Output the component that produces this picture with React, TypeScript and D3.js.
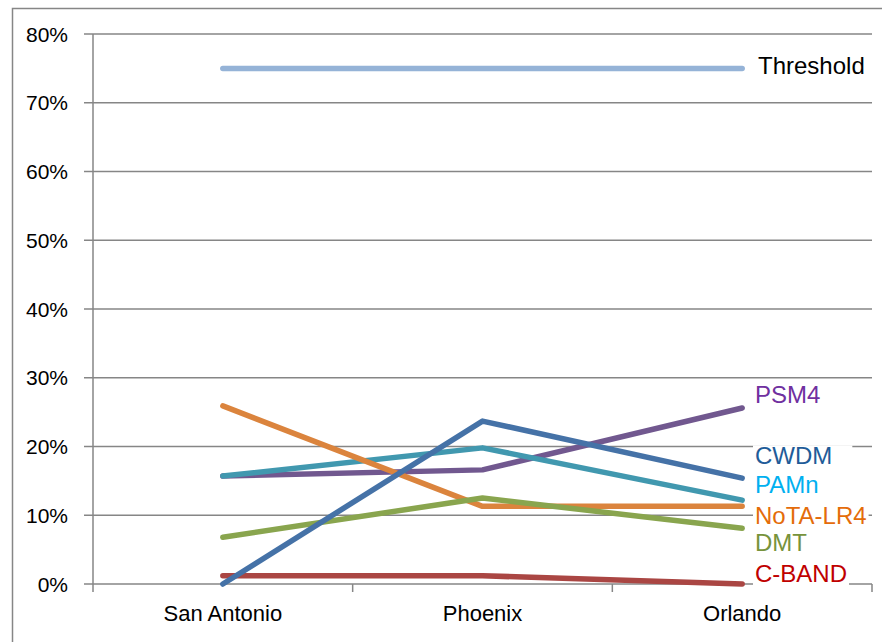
import React, { useEffect, useRef } from 'react';
import * as d3 from 'd3';

const cities = ['San Antonio', 'Phoenix', 'Orlando'];
const yTicks = [0, 0.1, 0.2, 0.3, 0.4, 0.5, 0.6, 0.7, 0.8];

const threshold = [0.75, 0.75, 0.75];
const cband = [0.012, 0.012, 0.0];
const psm4 = [0.157, 0.166, 0.256];
const pamn = [0.157, 0.198, 0.122];
const nota = [0.259, 0.113, 0.113];
const dmt = [0.068, 0.125, 0.081];
const cwdm = [0.0, 0.237, 0.154];

const seriesNames = ['Threshold', 'C-BAND', 'PSM4', 'PAMn', 'NoTA-LR4', 'DMT', 'CWDM'];
const seriesValues = [threshold, cband, psm4, pamn, nota, dmt, cwdm];
const lineColors = ['#95b3d7', '#aa4643', '#71588f', '#4198af', '#db843d', '#89a54e', '#4572a7'];
const labelColors = ['#000000', '#c00000', '#7030a0', '#00b0f0', '#e46c0a', '#77933c', '#1f5c99'];
// where each end label sits, in axis units
const labelAt = [0.742, 0.003, 0.263, 0.132, 0.088, 0.048, 0.174];

export default function App() {
  const svgRef = useRef<SVGSVGElement>(null);

  useEffect(() => {
    const w = 882;
    const h = 642;
    const left = 93;
    const right = 872;
    const top = 34;
    const bottom = 584;
    const grid = '#868686';
    const font = '"Liberation Sans", Arial, sans-serif';

    const svg = d3.select(svgRef.current).attr('width', w).attr('height', h);
    svg.selectAll('*').remove();

    svg
      .append('rect')
      .attr('x', 12.5)
      .attr('y', 8.5)
      .attr('width', 900)
      .attr('height', 700)
      .attr('fill', '#fff')
      .attr('stroke', grid)
      .attr('stroke-width', 1.5);

    const x = d3.scaleBand().domain(cities).range([left, right]);
    const y = d3.scaleLinear().domain([0, 0.8]).range([bottom, top]);

    // gridlines + y ticks
    svg
      .selectAll('.grid')
      .data(yTicks)
      .join('line')
      .attr('x1', left - 9)
      .attr('x2', right)
      .attr('y1', (d) => y(d))
      .attr('y2', (d) => y(d))
      .attr('stroke', grid)
      .attr('stroke-width', 1.5);

    svg
      .append('line')
      .attr('x1', left)
      .attr('x2', left)
      .attr('y1', top)
      .attr('y2', bottom)
      .attr('stroke', grid)
      .attr('stroke-width', 1.5);

    svg
      .selectAll('.ytl')
      .data(yTicks)
      .join('text')
      .attr('x', 68)
      .attr('y', (d) => y(d) + 7.5)
      .attr('text-anchor', 'end')
      .attr('font-family', font)
      .attr('font-size', 21)
      .attr('fill', '#000')
      .text((d) => d3.format('.0%')(d));

    // x ticks
    const xt = [left, ...cities.map((c) => (x(c) as number) + x.bandwidth())];
    svg
      .selectAll('.xt')
      .data(xt)
      .join('line')
      .attr('x1', (d) => d)
      .attr('x2', (d) => d)
      .attr('y1', bottom)
      .attr('y2', bottom + 8)
      .attr('stroke', grid)
      .attr('stroke-width', 1.5);

    svg
      .selectAll('.xl')
      .data(cities)
      .join('text')
      .attr('x', (d) => (x(d) as number) + x.bandwidth() / 2)
      .attr('y', 621)
      .attr('text-anchor', 'middle')
      .attr('font-family', font)
      .attr('font-size', 22)
      .attr('fill', '#000')
      .text((d) => d);

    const line = d3
      .line<number>()
      .x((d, i) => (x(cities[i]) as number) + x.bandwidth() / 2)
      .y((d) => y(d));

    seriesValues.forEach((vals, i) => {
      svg
        .append('path')
        .attr('d', line(vals))
        .attr('fill', 'none')
        .attr('stroke', lineColors[i])
        .attr('stroke-width', 5.5)
        .attr('stroke-linecap', 'round')
        .attr('stroke-linejoin', 'round');
    });

    // end labels with white backgrounds
    seriesNames.forEach((name, i) => {
      const g = svg.append('g');
      const lx = i === 0 ? 758 : 755;
      const t = g
        .append('text')
        .attr('x', lx)
        .attr('y', y(labelAt[i]))
        .attr('font-family', font)
        .attr('font-size', 24)
        .attr('fill', labelColors[i])
        .text(name);
      const bb = (t.node() as SVGTextElement).getBBox();
      const extra = name === 'CWDM' ? 18 : 0;
      g.insert('rect', 'text')
        .attr('x', bb.x - 2)
        .attr('y', bb.y + 3)
        .attr('width', bb.width + 4 + extra)
        .attr('height', bb.height - 3)
        .attr('fill', '#fff');
    });
  }, []);

  return (
    <div style={{ position: 'absolute', left: 0, top: 0 }}>
      <svg ref={svgRef}></svg>
    </div>
  );
}
